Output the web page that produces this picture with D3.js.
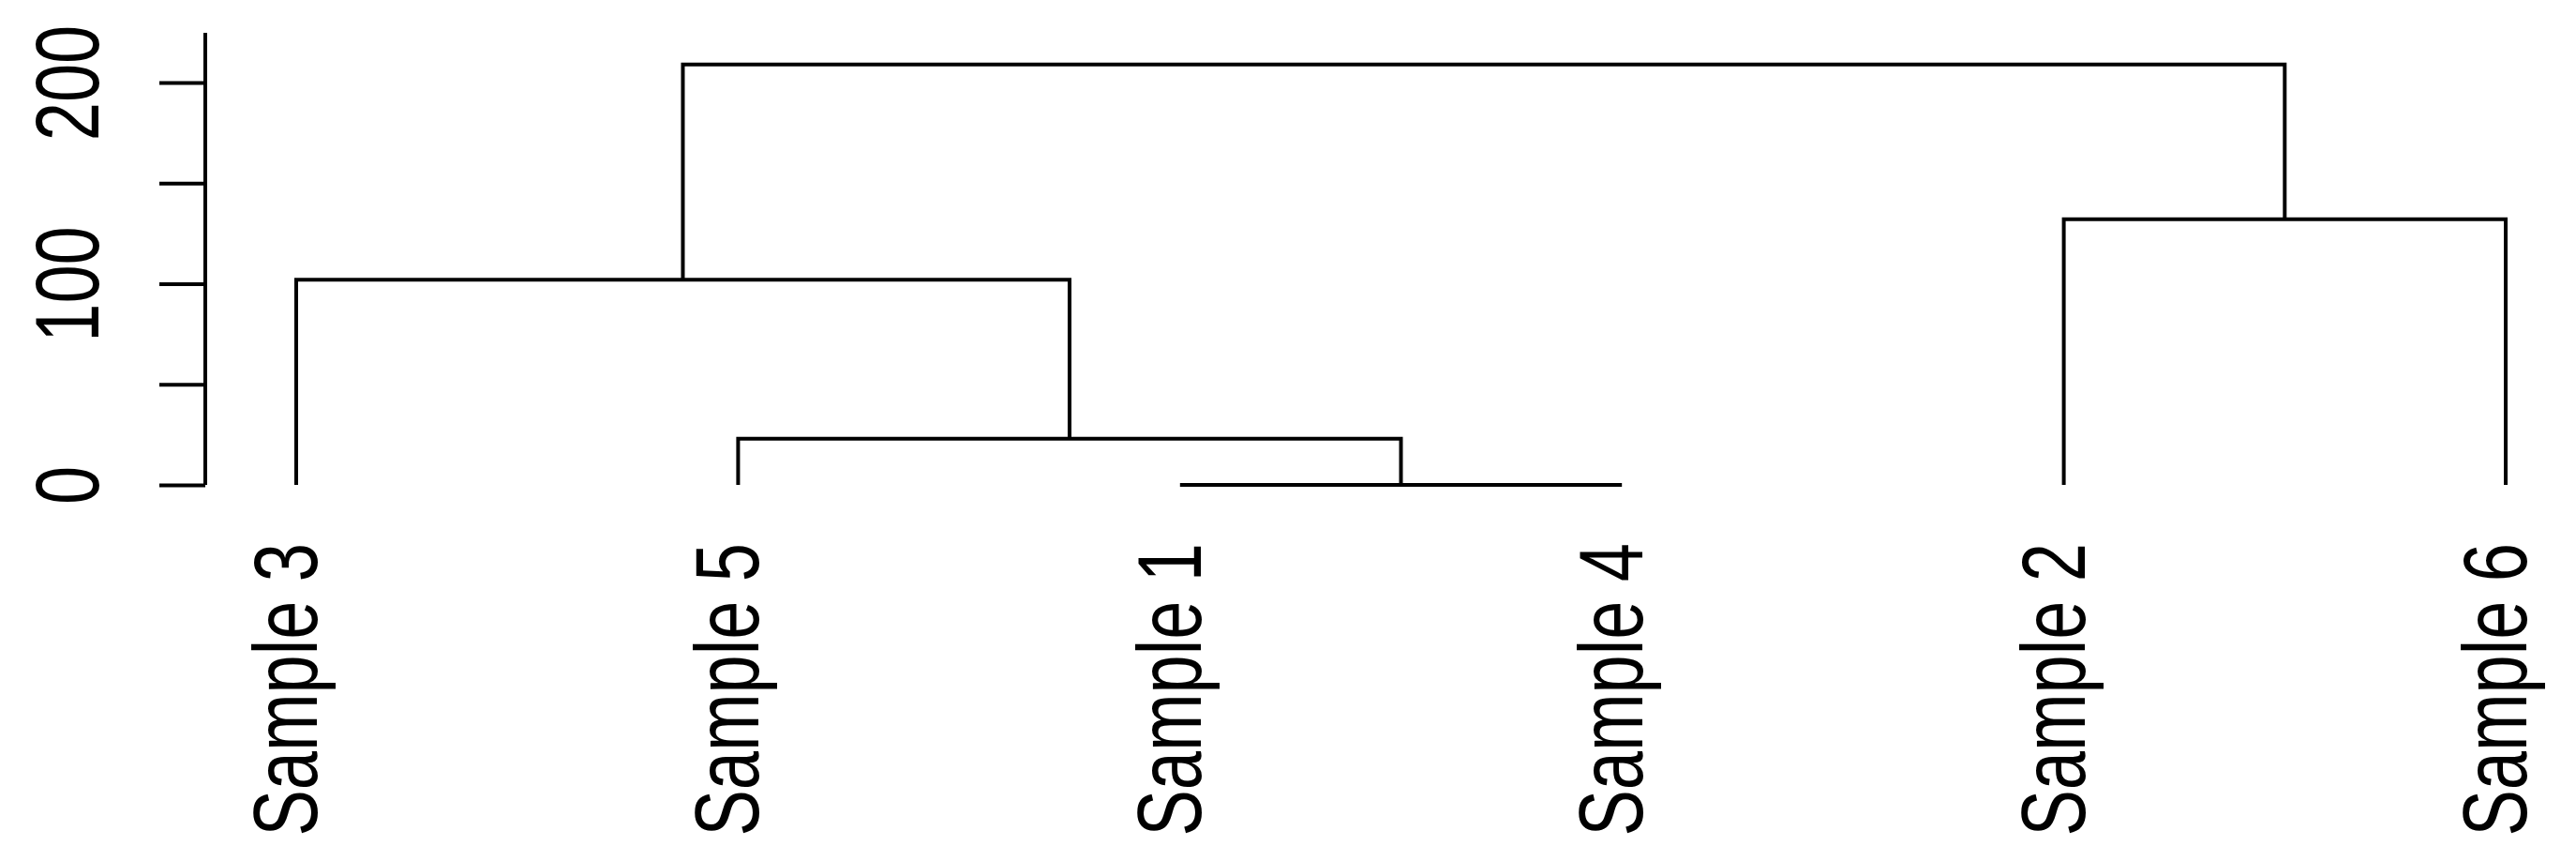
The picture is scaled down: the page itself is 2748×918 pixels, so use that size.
<!DOCTYPE html>
<html>
<head>
<meta charset="utf-8">
<script src="https://cdn.jsdelivr.net/npm/d3@7"></script>
<style>
    body { margin: 0; background: #fff; }
    svg { display: block; }
    .branch { fill: none; stroke: #000; stroke-width: 4; stroke-linejoin: miter; }
    .axis path, .axis line { stroke: #000; stroke-width: 4; }
    text { font-family: "Liberation Sans", Arial, sans-serif; fill: #000; }
</style>
</head>
<body>
<div id="chart"></div>
<script>
// Leaf order along the bottom
var leafLabels = ["Sample 3", "Sample 5", "Sample 1", "Sample 4", "Sample 2", "Sample 6"];

// Merge steps (hclust style): node mK joins mergeA[K-1] and mergeB[K-1]
var mergeA = ["Sample 1", "Sample 5", "Sample 3", "Sample 2", "m3"];
var mergeB = ["Sample 4", "m1", "m2", "Sample 6", "m4"];
var mergeHeight = [0, 23, 102, 132, 209];

// Axis: ticks at every 50, labels only where R had room for them
var yTicks = [0, 50, 100, 150, 200];
var yTickLabels = [0, 100, 200];
var yTop = 224.7;

var width = 2748, height = 918;

var svg = d3.select("#chart").append("svg")
    .attr("width", width)
    .attr("height", height);

svg.append("rect")
    .attr("width", width)
    .attr("height", height)
    .attr("fill", "#fff");

// Scales
var x = d3.scalePoint()
    .domain(leafLabels)
    .range([316, 2673]);

var y = d3.scaleLinear()
    .domain([0, yTop])
    .range([517, 35]);

// Node positions: leaves at height 0, merges centred over their children
var pos = {};
leafLabels.forEach(function(d) {
    pos[d] = {x: x(d), h: 0};
});
var branches = [];
for (var i = 0; i < mergeHeight.length; i++) {
    var a = pos[mergeA[i]], b = pos[mergeB[i]];
    var id = "m" + (i + 1);
    pos[id] = {x: (a.x + b.x) / 2, h: mergeHeight[i]};
    branches.push({a: a, b: b, h: mergeHeight[i]});
}

// Draw the branches
svg.selectAll(".branch")
    .data(branches)
    .enter().append("path")
    .attr("class", "branch")
    .attr("d", function(d) {
        return "M" + d.a.x + "," + y(d.a.h) +
            "V" + y(d.h) +
            "H" + d.b.x +
            "V" + y(d.b.h);
    });

// Y axis
var yAxis = svg.append("g")
    .attr("class", "axis")
    .attr("transform", "translate(219,0)")
    .call(d3.axisLeft(y)
        .tickValues(yTicks)
        .tickSize(49)
        .tickSizeOuter(0)
        .tickFormat(function(d) { return yTickLabels.indexOf(d) >= 0 ? d : ""; }));

yAxis.selectAll("text")
    .attr("x", null)
    .attr("dy", null)
    .attr("text-anchor", "middle")
    .style("font-size", "74px")
    .attr("transform", "translate(-114,0) scale(1.3,1) rotate(-90)");

yAxis.select(".domain").attr("d", "M0," + y(0) + "V" + y(yTop));

// Leaf labels, rotated
svg.selectAll(".leaf-label")
    .data(leafLabels)
    .enter().append("text")
    .attr("class", "leaf-label")
    .attr("text-anchor", "end")
    .style("font-size", "74px")
    .attr("transform", function(d) {
        return "translate(" + (x(d) + 22) + ",579) scale(1.3,1) rotate(-90)";
    })
    .text(function(d) { return d; });
</script>
</body>
</html>
